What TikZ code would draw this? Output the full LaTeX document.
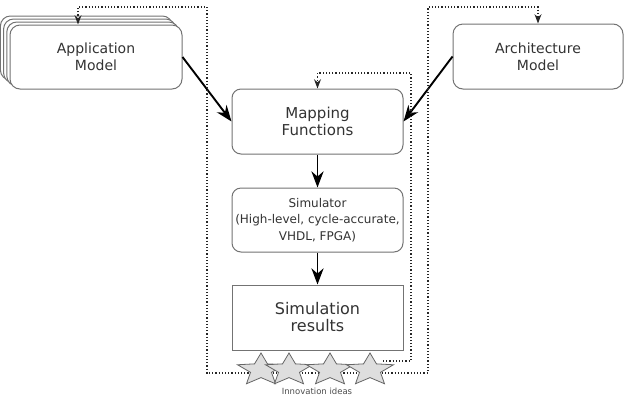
\documentclass[tikz,border=0pt]{standalone}
\usepackage{fontspec}
\setmainfont{DejaVu Sans}
\usetikzlibrary{arrows.meta}

\tikzset{
  box/.style={draw=black!55, fill=white, rounded corners=10pt, align=center,
    text=black!80, line width=1pt, inner sep=0pt},
  flow/.style={-{Stealth[scale=1.4]}, line width=1.9pt},
  loop/.style={dotted, line width=1.2pt, black!85},
  idea/.style={draw=black!60, fill=black!13, line width=0.8pt, line join=miter},
}

\begin{document}
\begin{tikzpicture}[x=1pt, y=-1pt]
		\useasboundingbox (0,0) rectangle (631,400);
		% stacked application models
		\foreach \k in {3,2,1}
			\node[box, minimum width=172pt, minimum height=64pt] (app\k) at (96-3.2*\k,57-3*\k) {};
		\node[box, minimum width=172pt, minimum height=64pt, font=\fontsize{14}{17}\selectfont] (app) at (96,57) {Application\\Model};
		\node[box, minimum width=170pt, minimum height=65pt, font=\fontsize{14}{17}\selectfont] (arch) at (538,56.5) {Architecture\\Model};
		\node[box, rounded corners=9pt, minimum width=171pt, minimum height=65pt, font=\fontsize{15}{17}\selectfont] (map) at (317.5,121.5) {Mapping\\Functions};
		\node[box, rounded corners=9pt, minimum width=171pt, minimum height=64pt, font=\fontsize{12}{16.5}\selectfont] (sim) at (317.5,220) {Simulator\\(High-level, cycle-accurate,\\VHDL, FPGA)};
		\node[box, rounded corners=0pt, minimum width=171pt, minimum height=65pt, font=\fontsize{16}{17}\selectfont] (res) at (317.5,317.5) {Simulation\\results};

		\draw[flow] (app.east) -- (map.west);
		\draw[flow] (arch.west) -- (map.east);
		\draw[flow] (map.south) -- (sim.north);
		\draw[flow] (sim.south) -- (res.north);

		% feedback loops
		\coordinate (back) at (383,361);
		\draw[loop, {Stealth[scale=1.1]}-{Stealth[scale=1.1]}] ([xshift=-18pt]app.north) |- (207,7) |- (428,373) |- (538,7) -- (arch.north);
		\draw[loop, -{Stealth[scale=1.1]}] (back) -| (411,73) -| (map.north);

		% innovation stars (flattened)
		\foreach \cx in {261,289,330,370}
			\draw[idea, shift={(\cx,370)}] (-90:24.7 and 17)
				\foreach \a in {-54,18,90,162,234} { -- (\a:11 and 7.6) -- (\a+36:24.7 and 17) } -- cycle;
		\node[text=black!70, font=\fontsize{8.5}{10}\selectfont] (ideas) at (317,391) {Innovation ideas};
	\end{tikzpicture}
\end{document}
